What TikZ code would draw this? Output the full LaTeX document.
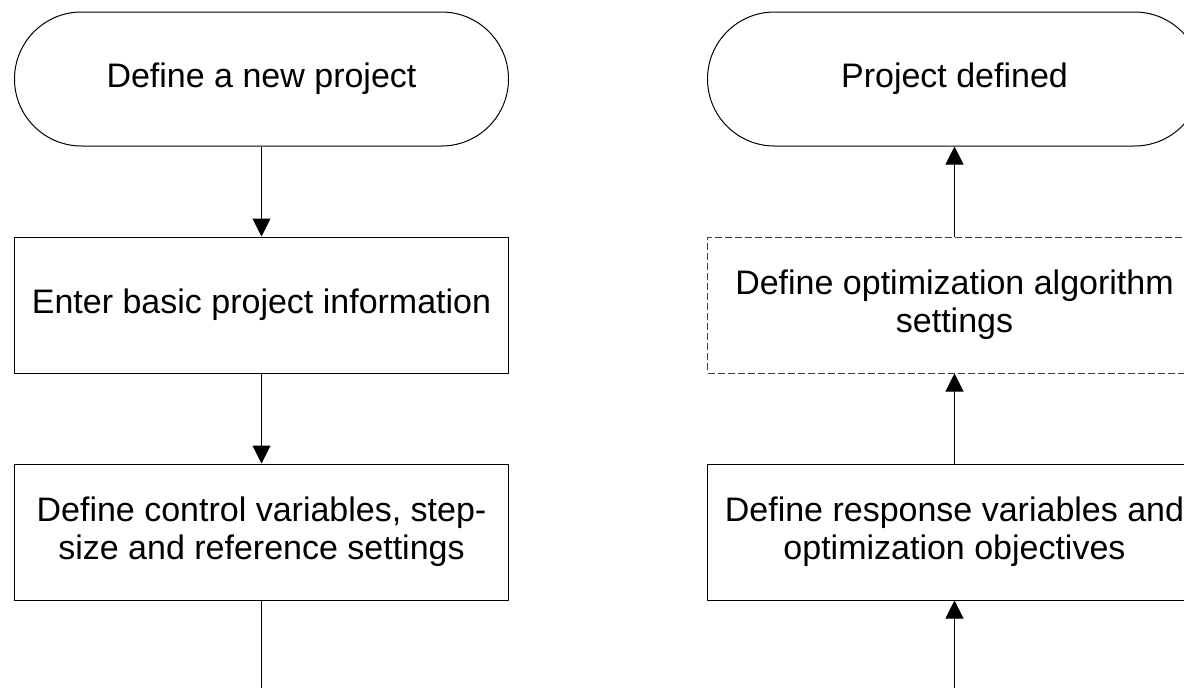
\documentclass[tikz,border=0pt]{standalone}
\usepackage{fontspec}
\setmainfont{Liberation Sans}
\usetikzlibrary{arrows.meta, positioning}

\begin{document}
\begin{tikzpicture}[x=1pt, y=-1pt, line width=1pt,
    node distance=90pt and 198pt,
    boxfont/.style={font=\fontsize{34}{38}\selectfont, align=center},
    terminal/.style={draw, boxfont, rounded corners=67pt, minimum width=494pt, minimum height=134pt},
    stepbox/.style={draw, boxfont, minimum width=494pt, minimum height=136pt},
    optbox/.style={stepbox, draw=black!75, dash pattern=on 7pt off 3pt},
    flow/.style={-{Triangle[width=18pt, length=18pt]}}]
  % page frame
  \useasboundingbox (0,0) rectangle (1184,688);
  \clip (0,0) rectangle (1184,688);

  % left column, top to bottom
  \node[terminal] (start) at (261.5,79) {Define a new project};
  \node[stepbox, below=of start] (info) {Enter basic project information};
  \node[stepbox, below=of info] (control) {Define control variables, step-\\size and reference settings};

  % right column, bottom to top
  \node[terminal, right=of start] (done) {Project defined};
  \node[optbox, below=of done] (algo) {Define optimization algorithm\\settings};
  \node[stepbox, below=of algo] (response) {Define response variables and\\optimization objectives};

  \coordinate (leftend) at (control.south |- 0,688);
  \coordinate (rightend) at (response.south |- 0,688);

  % connectors
  \draw[flow] (start) -- (info);
  \draw[flow] (info) -- (control);
  \draw (control) -- (leftend);
  \draw[flow] (rightend) -- (response);
  \draw[flow] (response) -- (algo);
  \draw[flow] (algo) -- (done);
\end{tikzpicture}
\end{document}
